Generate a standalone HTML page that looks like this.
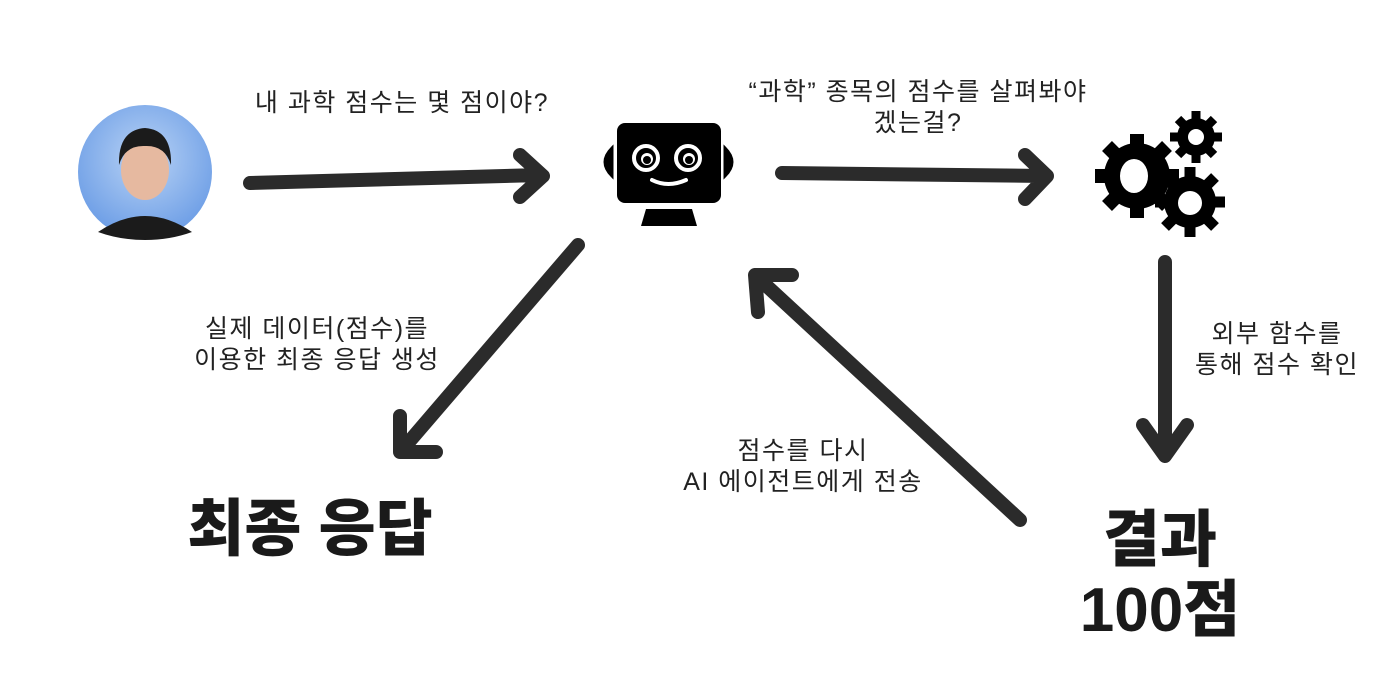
<!DOCTYPE html>
<html><head><meta charset="utf-8"><style>
body{margin:0;width:1400px;height:700px;background:#fff;overflow:hidden;position:relative;font-family:"Liberation Sans","Noto Sans CJK KR",sans-serif;color:#222}
.t{position:absolute;text-align:center;font-size:25px;line-height:31px;transform:translateX(-50%);white-space:nowrap;letter-spacing:1.5px}
.b{position:absolute;text-align:center;font-weight:900;font-size:62px;line-height:70px;transform:translateX(-50%);white-space:nowrap;color:#1a1a1a}
</style></head><body>
<svg width="1400" height="700" style="position:absolute;left:0;top:0">
<defs><radialGradient id="g" cx="50%" cy="40%" r="60%"><stop offset="0" stop-color="#b9d3f5"/><stop offset="1" stop-color="#6d9ee6"/></radialGradient></defs>
<circle cx="145" cy="172" r="67" fill="url(#g)"/>
<path d="M98 232 Q145 200 192 232 Q170 240 145 240 Q120 240 98 232Z" fill="#1b1b1b"/>
<ellipse cx="145" cy="170" rx="24" ry="30" fill="#e6b9a0"/>
<path d="M119 165 Q118 130 145 128 Q172 130 171 165 Q165 145 145 146 Q125 145 119 165Z" fill="#1b1b1b"/>
<g stroke="#2b2b2b" stroke-width="14" stroke-linecap="round" stroke-linejoin="round" fill="none">
<path d="M250 183 L540 175 M520 155 L543 176 L520 197"/>
<path d="M782 173 L1045 176 M1025 155 L1047 176 L1025 199"/>
<path d="M578 245 L402 450 M400 416 L400 452 L436 452"/>
<path d="M1165 262 L1165 455 M1143 425 L1165 456 L1187 425"/>
<path d="M1020 520 L757 277 M758 312 L755 275 L792 275"/>
</g>
<rect x="617" y="123" width="104" height="80" rx="8" fill="#000"/>
<path d="M612 148 Q598 162 612 176Z M725 148 Q739 162 725 176Z" fill="#000" stroke="#000" stroke-width="3"/>
<path d="M646 209 L692 209 L697 226 L641 226Z" fill="#000"/>
<circle cx="646" cy="158" r="12" fill="none" stroke="#fff" stroke-width="4"/>
<circle cx="688" cy="158" r="12" fill="none" stroke="#fff" stroke-width="4"/>
<circle cx="647" cy="159" r="6" fill="#fff"/><circle cx="689" cy="159" r="6" fill="#fff"/>
<circle cx="647" cy="160" r="4" fill="#000"/><circle cx="689" cy="160" r="4" fill="#000"/>
<path d="M652 180 Q668 188 686 180" stroke="#fff" stroke-width="4" fill="none" stroke-linecap="round"/>
<g fill="#000">
<circle cx="1137" cy="176" r="33"/>
<g stroke="#000" stroke-width="14">
<path d="M1137 134 V218 M1095 176 H1179 M1107 146 L1167 206 M1167 146 L1107 206"/>
</g>
<circle cx="1196" cy="137" r="19"/>
<g stroke="#000" stroke-width="9"><path d="M1196 111 V163 M1170 137 H1222 M1178 119 L1214 155 M1214 119 L1178 155"/></g>
<circle cx="1190" cy="202" r="26"/>
<g stroke="#000" stroke-width="11"><path d="M1190 167 V237 M1155 202 H1225 M1165 177 L1215 227 M1215 177 L1165 227"/></g>
</g>
<ellipse cx="1134" cy="176" rx="14" ry="17" fill="#fff"/>
<circle cx="1196" cy="137" r="8" fill="#fff"/>
<circle cx="1190" cy="203" r="12" fill="#fff"/>
</svg>
<div class="t" style="left:402px;top:88px">내 과학 점수는 몇 점이야?</div>
<div class="t" style="left:918px;top:77px">“과학” 종목의 점수를 살펴봐야<br>겠는걸?</div>
<div class="t" style="left:317px;top:314px">실제 데이터(점수)를<br>이용한 최종 응답 생성</div>
<div class="t" style="left:1277px;top:319px">외부 함수를<br>통해 점수 확인</div>
<div class="t" style="left:803px;top:436px">점수를 다시<br>AI 에이전트에게 전송</div>
<div class="b" style="left:310px;top:495px">최종 응답</div>
<div class="b" style="left:1160px;top:506px">결과<br>100점</div>
</body></html>
